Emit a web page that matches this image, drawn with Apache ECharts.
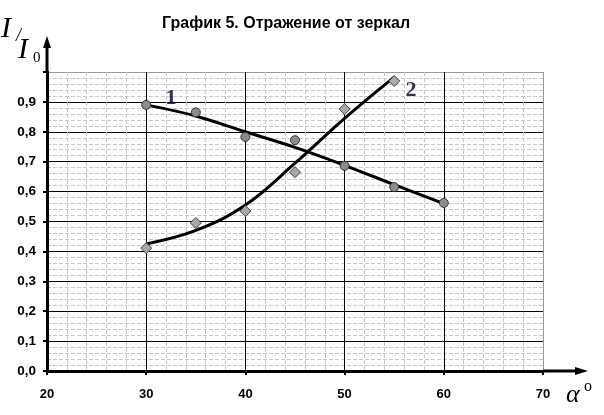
<!DOCTYPE html>
<html>
<head>
<meta charset="utf-8">
<script src="https://cdn.jsdelivr.net/npm/echarts@6/dist/echarts.min.js"></script>
<style>html,body{margin:0;padding:0;background:#fff;}#c{width:604px;height:415px;}</style>
</head>
<body>
<div id="c"></div>
<script>
// Data
var angles1 = [30, 35, 40, 45, 50, 55, 60];
var series1 = [0.89, 0.865, 0.783, 0.772, 0.686, 0.615, 0.562];
var angles2 = [30, 35, 40, 45, 50, 55];
var series2 = [0.411, 0.495, 0.535, 0.665, 0.876, 0.97];
// trend curves
var trend1X = [30, 35, 40, 45, 50, 55, 60];
var trend1Y = [0.89, 0.853, 0.80, 0.748, 0.688, 0.623, 0.56];
var trend2X = [30, 35, 40, 45, 50, 55];
var trend2Y = [0.425, 0.47, 0.555, 0.695, 0.845, 0.983];
var curveLabels = [["1", 32.5, 0.913], ["2", 56.7, 0.94]];
var titleText = "График 5. Отражение от зеркал";

function zip(a, b) { return a.map(function (v, i) { return [v, b[i]]; }); }

var chart = echarts.init(document.getElementById('c'), null, {renderer: 'canvas'});
var xSplitColors = ['#000', '#000', '#000', '#000', '#000', '#999'];
var ySplitColors = ['#000','#000','#000','#000','#000','#000','#000','#000','#000','#000','#999'];
var labelFont = 'Arial, "Liberation Sans", sans-serif';
var serif = '"Liberation Serif", "Times New Roman", serif';

var option = {
  animation: false,
  backgroundColor: '#fff',
  title: {
    text: titleText, left: 157, top: 11,
    textStyle: {fontFamily: labelFont, fontWeight: 'bold', fontSize: 16, color: '#000'}
  },
  grid: {left: 47, right: 61, top: 72, bottom: 44, containLabel: false},
  xAxis: {
    type: 'value', min: 20, max: 70, interval: 10,
    axisLine: {show: true, onZero: false, lineStyle: {color: '#000', width: 3}},
    axisTick: {show: true, length: 4, lineStyle: {color: '#000', width: 2}},
    axisLabel: {margin: 17, color: '#000', fontFamily: labelFont, fontWeight: 'bold', fontSize: 13},
    splitLine: {show: true, lineStyle: {color: xSplitColors, width: 1}},
    minorTick: {show: false, splitNumber: 5},
    minorSplitLine: {show: true, lineStyle: {color: '#c8c8c8', width: 1, type: [4, 2]}}
  },
  yAxis: {
    type: 'value', min: 0, max: 1, interval: 0.1,
    axisLine: {show: true, onZero: false, lineStyle: {color: '#000', width: 3}},
    axisTick: {show: true, length: 4, lineStyle: {color: '#000', width: 2}},
    axisLabel: {margin: 11, color: '#000', fontFamily: labelFont, fontWeight: 'bold', fontSize: 13.5,
      formatter: function (v) { return v >= 0.999 ? '' : v.toFixed(1).replace('.', ','); }},
    splitLine: {show: true, lineStyle: {color: ySplitColors, width: 1}},
    minorTick: {show: false, splitNumber: 5},
    minorSplitLine: {show: true, lineStyle: {color: '#c8c8c8', width: 1, type: [4, 2]}}
  },
  series: [
    {type: 'line', data: zip(trend1X, trend1Y), smooth: 0.3, symbol: 'none',
      lineStyle: {color: '#000', width: 3}, z: 3},
    {type: 'line', data: zip(trend2X, trend2Y), smooth: 0.4, symbol: 'none',
      lineStyle: {color: '#000', width: 3}, z: 3},
    {type: 'scatter', data: zip(angles1, series1), symbol: 'circle', symbolSize: 9,
      itemStyle: {color: '#8c8c8c', borderColor: '#333', borderWidth: 1, opacity: 1}, z: 4},
    {type: 'scatter', data: zip(angles2, series2), symbol: 'diamond', symbolSize: [11, 11],
      itemStyle: {color: '#a8a8a8', borderColor: '#444', borderWidth: 1, opacity: 1}, z: 4},
    {type: 'scatter', data: curveLabels.map(function (d) { return {value: [d[1], d[2]], name: d[0]}; }),
      symbolSize: 0, silent: true, z: 5,
      label: {show: true, position: 'inside', formatter: function (p) { return p.name; },
        fontFamily: serif, fontWeight: 'bold', fontSize: 22, color: '#000022'}}
  ]
};
chart.setOption(option);

// decorations: axis arrows and axis titles
var o = chart.convertToPixel({gridIndex: 0}, [20, 0]);
var xEnd = chart.convertToPixel({gridIndex: 0}, [70, 1]);
var x0 = o[0], y0 = o[1], x1 = xEnd[0], yTop = xEnd[1];
chart.setOption({
  graphic: [
    {type: 'line', shape: {x1: x0, y1: yTop, x2: x0, y2: yTop - 26}, style: {stroke: '#000', lineWidth: 3}, z: 10},
    {type: 'polygon', shape: {points: [[x0, yTop - 36], [x0 - 4, yTop - 24], [x0 + 4, yTop - 24]]}, style: {fill: '#000'}, z: 10},
    {type: 'line', shape: {x1: x1, y1: y0, x2: x1 + 34, y2: y0}, style: {stroke: '#000', lineWidth: 3}, z: 10},
    {type: 'polygon', shape: {points: [[x1 + 45, y0], [x1 + 32, y0 - 4], [x1 + 32, y0 + 4]]}, style: {fill: '#000'}, z: 10},
    {type: 'text', left: 1, top: 14, style: {text: 'I', font: 'italic 30px ' + serif, fill: '#000'}},
    {type: 'text', left: 16, top: 27, style: {text: '/', font: 'italic 18px ' + serif, fill: '#000'}},
    {type: 'text', left: 18, top: 35, style: {text: 'I', font: 'italic 30px ' + serif, fill: '#000'}},
    {type: 'text', left: 33, top: 51, style: {text: '0', font: '15px ' + serif, fill: '#000'}},
    {type: 'text', left: 566, top: 382, style: {text: 'α', font: 'italic 26px ' + serif, fill: '#000'}},
    {type: 'text', left: 584, top: 379, style: {text: 'o', font: '16px ' + serif, fill: '#000'}}
  ]
});
</script>
</body>
</html>
